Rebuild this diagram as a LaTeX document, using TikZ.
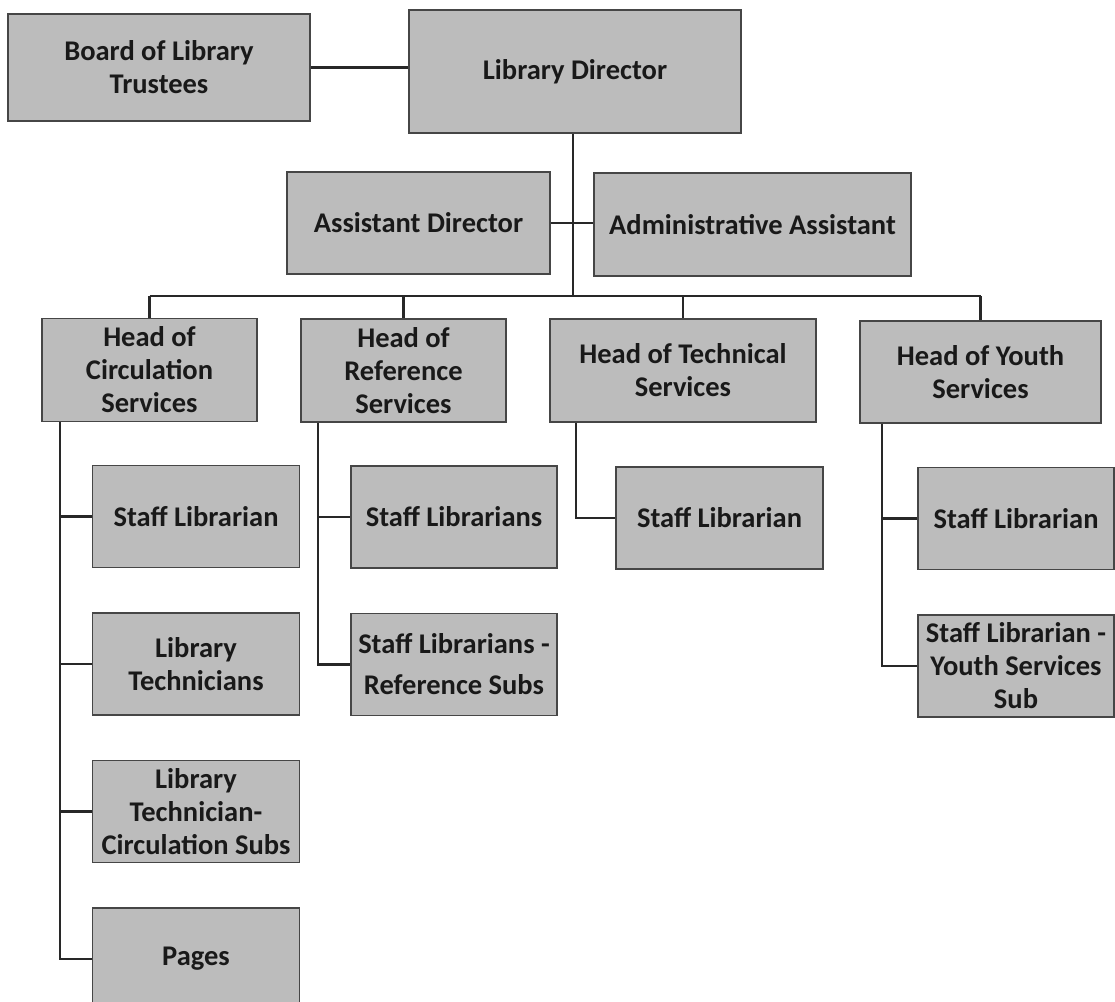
\documentclass[tikz,border=0pt]{standalone}
\usepackage{fontspec}
\setmainfont{Carlito}
\usepackage{tikz}
\usetikzlibrary{positioning, calc}

\definecolor{boxgray}{RGB}{188,188,188}
\definecolor{boxedge}{RGB}{70,70,70}
\definecolor{linkline}{RGB}{40,40,40}

\begin{document}
\begin{tikzpicture}[
    x=1pt, y=-1pt,
    node distance=44pt and 34pt,
    post/.style={draw=boxedge, line width=1.5pt, rectangle, fill=boxgray, align=center, inner sep=1pt,
        minimum height=102pt, font=\fontsize{28.5}{33}\selectfont\bfseries, text=black!90},
    link/.style={draw=linkline, line width=2.4pt}
]
\useasboundingbox[fill=white] (0,0) rectangle (1115,1001);

% top of the chart
\node[post, minimum width=302pt, minimum height=107pt] (board) at (159,67.5) {Board of Library\\Trustees};
\node[post, minimum width=332pt, minimum height=123pt] (dir) at (575,71.5) {Library Director};
\node[post, minimum width=263pt] (asst) at (418.5,223) {Assistant Director};
\node[post, minimum width=317pt, minimum height=103pt] (admin) at (752.5,224.5) {Administrative Assistant};

% heads of services
\node[post, minimum width=215pt, minimum height=103pt] (hcirc) at (149.5,370) {Head of\\Circulation\\Services};
\node[post, minimum width=205pt, minimum height=103pt] (href) at (403.5,370.5) {Head of\\Reference\\Services};
\node[post, minimum width=266pt, minimum height=103pt] (htech) at (683,370.5) {Head of Technical\\Services};
\node[post, minimum width=241pt] (hyouth) at (980.5,372) {Head of Youth\\Services};

% staff
\node[post, minimum width=207pt] (circ1) at (196,516.5) {Staff Librarian};
\node[post, minimum width=207pt, below=44pt of circ1] (circ2) {Library\\Technicians};
\node[post, minimum width=207pt, below=44pt of circ2] (circ3) {Library\\Technician-\\Circulation Subs};
\node[post, minimum width=207pt, below=44pt of circ3] (pages) {Pages};
\node[post, minimum width=206pt] (ref1) at (454,517) {Staff Librarians};
\node[post, minimum width=206pt, below=44pt of ref1] (ref2) {Staff Librarians -\\[8pt]Reference Subs};
\node[post, minimum width=207pt] (tech1) at (719.5,518) {Staff Librarian};
\node[post, minimum width=196pt] (youth1) at (1016,518.5) {Staff Librarian};
\node[post, minimum width=196pt, below=44pt of youth1] (youth2) {Staff Librarian -\\Youth Services\\Sub};

% links
\coordinate (bus) at (573,296);
\draw[link] (board.east) -- (board.east -| dir.west);
\draw[link] (dir.south -| bus) -- (bus);
\draw[link] (asst.east) -- (asst.east -| admin.west);
\draw[link] (hcirc.north |- bus) -- (hyouth.north |- bus);
\foreach \h in {hcirc, href, htech, hyouth}
  \draw[link] (\h.north |- bus) -- (\h.north);

\coordinate (circtop) at ($(hcirc.south west)+(19,0)$);
\coordinate (reftop) at ($(href.south west)+(18,0)$);
\coordinate (techtop) at ($(htech.south west)+(27,0)$);
\coordinate (youthtop) at ($(hyouth.south west)+(23,0)$);

\draw[link] (circtop) |- (pages.west);
\foreach \c in {circ1, circ2, circ3}
  \draw[link] (circtop |- \c.west) -- (\c.west);
\draw[link] (reftop) |- (ref2.west);
\draw[link] (reftop |- ref1.west) -- (ref1.west);
\draw[link] (techtop) |- (tech1.west);
\draw[link] (youthtop) |- (youth2.west);
\draw[link] (youthtop |- youth1.west) -- (youth1.west);

\end{tikzpicture}
\end{document}
